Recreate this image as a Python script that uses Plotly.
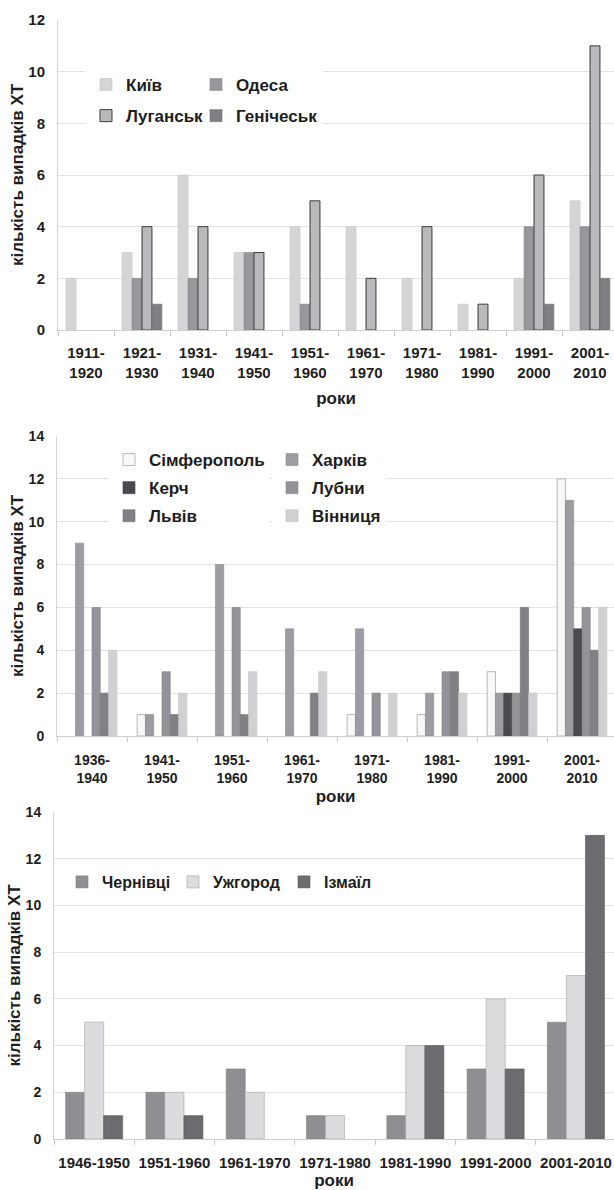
import plotly.graph_objects as go

W, H = 614, 1190

# ---------------- chart 1 data ----------------
p1_periods = ["1911-<br>1920", "1921-<br>1930", "1931-<br>1940", "1941-<br>1950", "1951-<br>1960",
              "1961-<br>1970", "1971-<br>1980", "1981-<br>1990", "1991-<br>2000", "2001-<br>2010"]
p1_kyiv = [2, 3, 6, 3, 4, 4, 2, 1, 2, 5]
p1_odesa = [0, 2, 2, 3, 1, 0, 0, 0, 4, 4]
p1_luhansk = [0, 4, 4, 3, 5, 2, 4, 1, 6, 11]
p1_henichesk = [0, 1, 0, 0, 0, 0, 0, 0, 1, 2]

# ---------------- chart 2 data ----------------
p2_periods = ["1936-<br>1940", "1941-<br>1950", "1951-<br>1960", "1961-<br>1970",
              "1971-<br>1980", "1981-<br>1990", "1991-<br>2000", "2001-<br>2010"]
p2_simferopol = [0, 1, 0, 0, 1, 1, 3, 12]
p2_kharkiv = [9, 1, 8, 5, 5, 2, 2, 11]
p2_kerch = [0, 0, 0, 0, 0, 0, 2, 5]
p2_lubny = [6, 3, 6, 0, 2, 3, 2, 6]
p2_lviv = [2, 1, 1, 2, 0, 3, 6, 4]
p2_vinnytsia = [4, 2, 3, 3, 2, 2, 2, 6]

# ---------------- chart 3 data ----------------
p3_periods = ["1946-1950", "1951-1960", "1961-1970", "1971-1980", "1981-1990", "1991-2000", "2001-2010"]
p3_chernivtsi = [2, 2, 3, 1, 1, 3, 5]
p3_uzhhorod = [5, 2, 2, 1, 4, 6, 7]
p3_izmail = [1, 1, 0, 0, 4, 3, 13]

FONT = "Liberation Sans, Arial, sans-serif"
TXT = "#1e1e1e"


def nz(vals):
    return [v if v else None for v in vals]


def px_x(p):
    return p / W


def px_y(p):
    return 1 - p / H


fig = go.Figure()


def add_bar(name, x, vals, color, line_color, line_w, xa, ya, legend, group):
    fig.add_trace(go.Bar(
        name=name, x=x, y=nz(vals), xaxis=xa, yaxis=ya,
        marker=dict(color=color, line=dict(color=line_color, width=line_w)),
        legend=legend, legendgroup=group, showlegend=True,
    ))


# chart 1 (col1 legend drawn after col2 so its white box sits on top)
add_bar("Київ", p1_periods, p1_kyiv, "#d5d5d7", "#c4c4c6", 0.6, "x", "y", "legend2", "a1")
add_bar("Одеса", p1_periods, p1_odesa, "#97979b", "#86868a", 0.6, "x", "y", "legend", "a2")
add_bar("Луганськ", p1_periods, p1_luhansk, "#b9b9bc", "#3c3c3c", 1.0, "x", "y", "legend2", "a3")
add_bar("Генічеськ", p1_periods, p1_henichesk, "#7f7f83", "#707074", 0.6, "x", "y", "legend", "a4")

# chart 2
add_bar("Сімферополь", p2_periods, p2_simferopol, "#f8f8f8", "#b8b8b8", 1.0, "x2", "y2", "legend4", "b1")
add_bar("Харків", p2_periods, p2_kharkiv, "#9d9da1", "#8a8a8e", 0.6, "x2", "y2", "legend3", "b2")
add_bar("Керч", p2_periods, p2_kerch, "#4b4b4f", "#3e3e42", 0.6, "x2", "y2", "legend4", "b3")
add_bar("Лубни", p2_periods, p2_lubny, "#949498", "#838387", 0.6, "x2", "y2", "legend3", "b4")
add_bar("Львів", p2_periods, p2_lviv, "#818185", "#717175", 0.6, "x2", "y2", "legend4", "b5")
add_bar("Вінниця", p2_periods, p2_vinnytsia, "#d1d1d3", "#c2c2c4", 0.6, "x2", "y2", "legend3", "b6")

# chart 3
add_bar("Чернівці", p3_periods, p3_chernivtsi, "#8f8f93", "#7e7e82", 0.6, "x3", "y3", "legend5", "c1")
add_bar("Ужгород", p3_periods, p3_uzhhorod, "#dcdcde", "#b4b4b6", 0.8, "x3", "y3", "legend5", "c2")
add_bar("Ізмаїл", p3_periods, p3_izmail, "#6c6c70", "#5c5c60", 0.6, "x3", "y3", "legend5", "c3")


def xaxis(dom_left_px, n_end, tick_size, label_standoff, title_standoff, anchor):
    return dict(
        domain=[px_x(dom_left_px), 1], range=[-0.5, n_end], type="category",
        showline=True, linecolor="#cfcfcf", linewidth=1,
        ticks="outside", tickson="boundaries", ticklen=5, tickcolor="#c8c8c8",
        tickfont=dict(family=FONT, size=tick_size, color=TXT, weight="bold"),
        tickangle=0, automargin=False,
        showgrid=False, fixedrange=True,
        title=dict(text="роки", font=dict(family=FONT, size=17, color=TXT, weight="bold"),
                   standoff=title_standoff),
        ticklabelstandoff=label_standoff, anchor=anchor,
    )


def yaxis(y0_px, ytop_px, ymax, tick_size, anchor):
    return dict(
        domain=[px_y(y0_px), px_y(ytop_px)], range=[0, ymax], dtick=2, tick0=0,
        showline=True, linecolor="#d4d4d4", linewidth=1,
        showgrid=True, gridcolor="#e2e2e2", gridwidth=1, zeroline=False,
        ticks="", tickfont=dict(family=FONT, size=tick_size, color=TXT, weight="bold"),
        ticklabelstandoff=9, automargin=False,
        title=dict(text="кількість випадків ХТ",
                   font=dict(family=FONT, size=17, color=TXT, weight="bold"), standoff=0),
        anchor=anchor, fixedrange=True,
    )


def legend(x_px, y_px, size, gap, orientation="v", bg="white", entrywidth=None):
    d = dict(x=px_x(x_px), y=px_y(y_px), xanchor="left", yanchor="top",
             bgcolor=bg, borderwidth=0, orientation=orientation,
             font=dict(family=FONT, size=size, color=TXT, weight="bold"),
             tracegroupgap=gap, traceorder="grouped", itemclick=False, itemdoubleclick=False)
    if entrywidth is not None:
        d["entrywidth"] = entrywidth
    return d


fig.update_layout(
    width=W, height=H,
    margin=dict(l=0, r=0, t=0, b=0, autoexpand=False),
    paper_bgcolor="white", plot_bgcolor="white",
    barmode="group",
    bargap=0.29, bargroupgap=0,
    showlegend=True,
    xaxis=xaxis(58, -0.5 + 556 / 56, 15, 9, 12, "y"),
    yaxis=yaxis(330, 20, 12, 15, "x"),
    xaxis2=xaxis(57, -0.5 + 557 / 70, 14, 11, 5, "y2"),
    yaxis2=yaxis(736, 436, 14, 14, "x2"),
    xaxis3=xaxis(54, -0.5 + 560 / 80.3, 15, 10, 7, "y3"),
    yaxis3=yaxis(1139, 812, 14, 14, "x3"),
    legend=legend(196, 67, 17, 6),
    legend2=legend(86, 67, 17, 6),
    legend3=legend(272, 442, 17, 3),
    legend4=legend(109, 442, 17, 3),
    legend5=legend(62, 865, 16, 0, orientation="h", bg="rgba(0,0,0,0)", entrywidth=66),
)

# remove the page's default body margin so the figure sits at the window's top-left corner
fig.write_html(
    "out.html",
    config={"displayModeBar": False},
    post_script="document.body.style.margin='0';document.documentElement.style.overflow='hidden';",
)
